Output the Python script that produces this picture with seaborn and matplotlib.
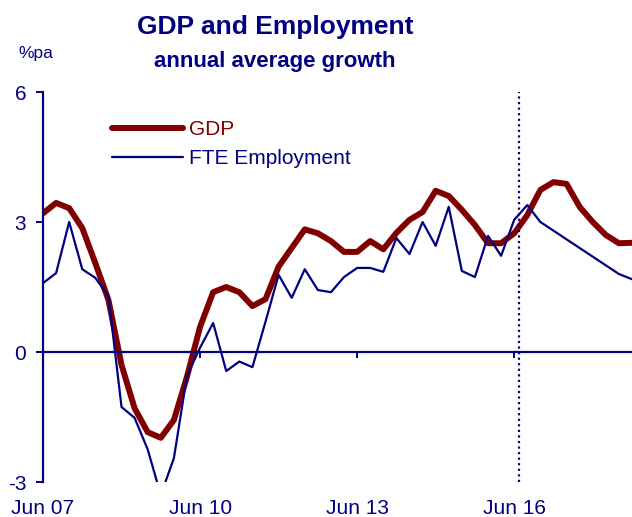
import matplotlib
matplotlib.use("Agg")
import matplotlib.pyplot as plt
import seaborn as sns
import pandas as pd
import numpy as np

# ---- data (quarterly, Jun 2007 onwards) ----
gdp = [3.2, 3.44, 3.32, 2.86, 2.05, 1.2, -0.3, -1.3, -1.85, -1.98, -1.57, -0.57,
       0.58, 1.38, 1.5, 1.38, 1.06, 1.22, 1.97, 2.4, 2.83, 2.74, 2.56, 2.31,
       2.31, 2.56, 2.37, 2.75, 3.05, 3.23, 3.72, 3.6, 3.28, 2.93, 2.51, 2.51,
       2.74, 3.16, 3.74, 3.92, 3.88, 3.35, 3.0, 2.7, 2.51, 2.52]
employment = [1.59, 1.82, 3.0, 1.91, 1.71, 1.29, -1.27, -1.52, -2.25, -3.3, -2.45, -0.55,
              0.1, 0.67, -0.44, -0.22, -0.35, 0.7, 1.78, 1.25, 1.91, 1.43, 1.38, 1.73,
              1.94, 1.94, 1.85, 2.63, 2.26, 3.0, 2.45, 3.35, 1.87, 1.73, 2.68, 2.22,
              3.05, 3.39, 3.0, 2.8, 2.6, 2.4, 2.2, 2.0, 1.8, 1.68]
quarter = list(range(len(gdp)))
tick_pos = [0, 12, 24, 36]
tick_labels = ["Jun 07", "Jun 10", "Jun 13", "Jun 16"]
y_ticks = [-3, 0, 3, 6]
forecast_start = 36.4

NAVY = "#000080"
RED = "#800000"

df = pd.DataFrame({"q": quarter, "GDP": gdp, "FTE Employment": employment})

sns.set_theme(style="white")
plt.rcParams["font.family"] = ["Liberation Sans", "DejaVu Sans"]

fig = plt.figure(figsize=(6.32, 5.17), dpi=100)
ax = fig.add_axes([43/632, 1-482/517, 1-43/632, 390/517])

sns.lineplot(data=df, x="q", y="GDP", ax=ax, color=RED, linewidth=4.3,
             label="GDP", solid_joinstyle="round")
sns.lineplot(data=df, x="q", y="FTE Employment", ax=ax, color=NAVY, linewidth=1.6,
             label="FTE Employment")

ax.axvline(forecast_start, color=NAVY, linestyle=(0, (1, 1.5)), linewidth=1.6)

ax.set_xlim(0, len(gdp) - 1)
ax.set_ylim(-3, 6)
ax.set_xlabel("")
ax.set_ylabel("")

for s in ["top", "right"]:
    ax.spines[s].set_visible(False)
ax.spines["left"].set_color(NAVY)
ax.spines["left"].set_linewidth(1.6)
ax.spines["bottom"].set_position(("data", 0))
ax.spines["bottom"].set_color(NAVY)
ax.spines["bottom"].set_linewidth(1.6)

ax.set_xticks(tick_pos)
ax.tick_params(axis="x", direction="out", length=4, width=1.4, color=NAVY,
               labelbottom=False, bottom=True)
ax.set_yticks(y_ticks)
ax.set_yticklabels([str(v) for v in y_ticks])
ax.tick_params(axis="y", direction="out", length=5, width=1.4, color=NAVY,
               labelcolor=NAVY, labelsize=15, pad=7, left=True)

sec = ax.secondary_xaxis(0.0)
sec.set_xticks(tick_pos, labels=tick_labels)
sec.tick_params(length=0, labelsize=15, labelcolor=NAVY, pad=12.5)
sec.spines["bottom"].set_visible(False)

leg = ax.legend(loc="upper left", bbox_to_anchor=((112-43)/589, 0.927),
                frameon=False, fontsize=15, handlelength=3.4, handletextpad=0.3,
                labelspacing=0.45, borderpad=0, borderaxespad=0)
for t in leg.get_texts():
    t.set_color(NAVY)
leg.get_texts()[0].set_color(RED)

fig.text(275/632, 1-34/517, "GDP and Employment", ha="center", va="baseline",
         fontsize=19, fontweight="bold", color=NAVY)
fig.text(275/632, 1-66.5/517, "annual average growth", ha="center", va="baseline",
         fontsize=16, fontweight="bold", color=NAVY)
fig.text(18/632, 1-58/517, "%pa", ha="left", va="baseline", fontsize=12.5, color=NAVY)

fig.savefig("out.png", dpi=100)
